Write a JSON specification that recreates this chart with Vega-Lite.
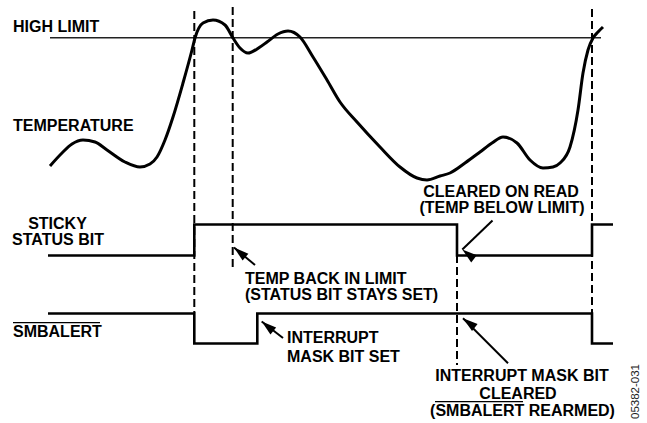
{
  "$schema": "https://vega.github.io/schema/vega-lite/v6.json",
  "width": 647,
  "height": 423,
  "padding": 0,
  "autosize": {"type": "fit", "contains": "padding"},
  "background": "white",
  "config": {"view": {"stroke": null}},
  "datasets": {
    "temperature": [
      {"x": 50, "y": 166}, {"x": 62, "y": 153}, {"x": 72, "y": 144}, {"x": 83, "y": 140},
      {"x": 95, "y": 142}, {"x": 107, "y": 150}, {"x": 125, "y": 162}, {"x": 140, "y": 167},
      {"x": 150, "y": 164}, {"x": 157, "y": 157}, {"x": 165, "y": 140}, {"x": 173, "y": 117},
      {"x": 183, "y": 83}, {"x": 192, "y": 50}, {"x": 195, "y": 38}, {"x": 203, "y": 23},
      {"x": 213, "y": 20}, {"x": 225, "y": 25}, {"x": 233, "y": 38}, {"x": 240, "y": 48},
      {"x": 248, "y": 53}, {"x": 260, "y": 47}, {"x": 267, "y": 42}, {"x": 278, "y": 34},
      {"x": 288, "y": 31}, {"x": 300, "y": 37}, {"x": 313, "y": 57}, {"x": 327, "y": 80},
      {"x": 340, "y": 102}, {"x": 357, "y": 122}, {"x": 380, "y": 147}, {"x": 400, "y": 167},
      {"x": 417, "y": 178}, {"x": 427, "y": 180}, {"x": 440, "y": 176}, {"x": 450, "y": 173},
      {"x": 465, "y": 163}, {"x": 480, "y": 152}, {"x": 492, "y": 143}, {"x": 503, "y": 137},
      {"x": 517, "y": 143}, {"x": 530, "y": 160}, {"x": 543, "y": 168}, {"x": 553, "y": 167},
      {"x": 560, "y": 163}, {"x": 570, "y": 147}, {"x": 578, "y": 110}, {"x": 583, "y": 73},
      {"x": 588, "y": 50}, {"x": 593, "y": 38}, {"x": 598, "y": 32}, {"x": 603, "y": 27}
    ],
    "limit": [
      {"x": 50, "y": 37.7, "x2": 601}
    ],
    "signals": [
      {"signal": "sticky", "x": 48, "y": 255.5}, {"signal": "sticky", "x": 194.3, "y": 224.5},
      {"signal": "sticky", "x": 457, "y": 255.5}, {"signal": "sticky", "x": 592, "y": 224.5},
      {"signal": "sticky", "x": 613, "y": 224.5},
      {"signal": "smbalert", "x": 48, "y": 313.5}, {"signal": "smbalert", "x": 194.3, "y": 343.5},
      {"signal": "smbalert", "x": 257.3, "y": 313.5}, {"signal": "smbalert", "x": 592, "y": 343.5},
      {"signal": "smbalert", "x": 613, "y": 343.5}
    ],
    "dashed": [
      {"x": 194.3, "y": 11, "y2": 313},
      {"x": 232.7, "y": 7, "y2": 267},
      {"x": 457, "y": 255, "y2": 365},
      {"x": 592, "y": 9, "y2": 313}
    ],
    "arrows": [
      {"id": "a", "x": 234, "y": 247.5, "x2": 255, "y2": 265},
      {"id": "b", "x": 261.7, "y": 321.5, "x2": 283, "y2": 338},
      {"id": "c", "x": 462.3, "y": 249.5, "x2": 492.5, "y2": 220.5},
      {"id": "d", "x": 463, "y": 318.3, "x2": 508, "y2": 363.3}
    ],
    "overlines": [
      {"x": 13, "x2": 100, "y": 322.7},
      {"x": 435, "x2": 523, "y": 401.7}
    ],
    "labelsLeft": [
      {"x": 13, "y": 32, "label": "HIGH LIMIT"},
      {"x": 13, "y": 131, "label": "TEMPERATURE"},
      {"x": 13, "y": 337, "label": "SMBALERT"},
      {"x": 245, "y": 284, "label": "TEMP BACK IN LIMIT"},
      {"x": 245, "y": 300, "label": "(STATUS BIT STAYS SET)"},
      {"x": 287, "y": 343, "label": "INTERRUPT"},
      {"x": 287, "y": 361.5, "label": "MASK BIT SET"}
    ],
    "labelsCenter": [
      {"x": 57.5, "y": 229, "label": "STICKY"},
      {"x": 58, "y": 245, "label": "STATUS BIT"},
      {"x": 501, "y": 197, "label": "CLEARED ON READ"},
      {"x": 502, "y": 213, "label": "(TEMP BELOW LIMIT)"},
      {"x": 522, "y": 380.5, "label": "INTERRUPT MASK BIT"},
      {"x": 518, "y": 399, "label": "CLEARED"},
      {"x": 522.5, "y": 416, "label": "(SMBALERT REARMED)"}
    ],
    "code": [
      {"x": 635.5, "y": 391.5, "label": "05382-031"}
    ]
  },
  "encoding": {
    "x": {"field": "x", "type": "quantitative", "scale": {"domain": [0, 647], "nice": false, "zero": false}, "axis": null},
    "y": {"field": "y", "type": "quantitative", "scale": {"domain": [0, 423], "nice": false, "zero": false, "reverse": true}, "axis": null}
  },
  "layer": [
    {
      "data": {"name": "limit"},
      "mark": {"type": "rule", "color": "#222", "strokeWidth": 1.4},
      "encoding": {"x2": {"field": "x2"}}
    },
    {
      "data": {"name": "dashed"},
      "mark": {"type": "rule", "color": "black", "strokeWidth": 2, "strokeDash": [8, 4]},
      "encoding": {"y2": {"field": "y2"}}
    },
    {
      "data": {"name": "temperature"},
      "mark": {"type": "line", "color": "black", "strokeWidth": 3, "interpolate": "monotone", "strokeCap": "butt"},
      "encoding": {}
    },
    {
      "data": {"name": "signals"},
      "mark": {"type": "line", "color": "black", "strokeWidth": 2.6, "interpolate": "step-after", "strokeJoin": "miter", "strokeCap": "butt"},
      "encoding": {"detail": {"field": "signal", "type": "nominal"}}
    },
    {
      "data": {"name": "arrows"},
      "mark": {"type": "rule", "color": "black", "strokeWidth": 2},
      "encoding": {"x2": {"field": "x2"}, "y2": {"field": "y2"}}
    },
    {
      "data": {"name": "arrows"},
      "mark": {"type": "point", "filled": true, "color": "black", "opacity": 1, "strokeWidth": 0, "shape": "M0,0L0.6,2L-0.6,2Z", "size": 225},
      "encoding": {
        "angle": {"field": "id", "type": "nominal", "scale": {"domain": ["a", "b", "c", "d"], "range": [310, 308, 226, 315]}, "legend": null}
      }
    },
    {
      "data": {"name": "overlines"},
      "mark": {"type": "rule", "color": "black", "strokeWidth": 1.3},
      "encoding": {"x2": {"field": "x2"}}
    },
    {
      "data": {"name": "labelsLeft"},
      "mark": {"type": "text", "align": "left", "baseline": "alphabetic", "font": "Liberation Sans", "fontWeight": "bold", "fontSize": 16, "color": "black"},
      "encoding": {"text": {"field": "label"}}
    },
    {
      "data": {"name": "labelsCenter"},
      "mark": {"type": "text", "align": "center", "baseline": "alphabetic", "font": "Liberation Sans", "fontWeight": "bold", "fontSize": 16, "color": "black"},
      "encoding": {"text": {"field": "label"}}
    },
    {
      "data": {"name": "code"},
      "mark": {"type": "text", "align": "center", "baseline": "middle", "angle": 270, "font": "Liberation Sans", "fontSize": 11.5, "color": "#222"},
      "encoding": {"text": {"field": "label"}}
    }
  ]
}
